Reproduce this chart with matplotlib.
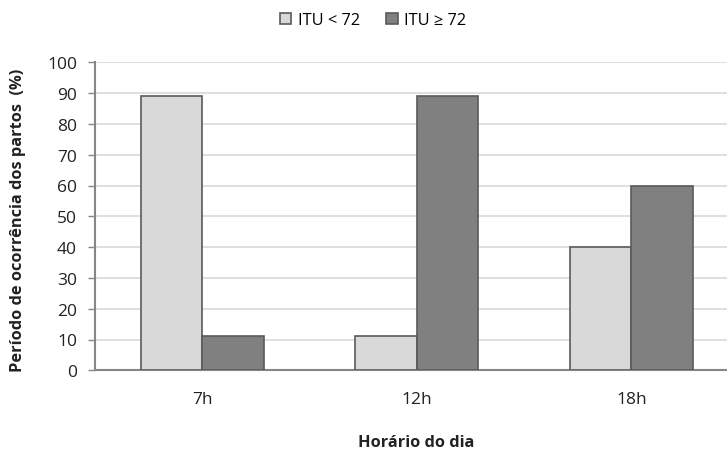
import matplotlib
matplotlib.use("Agg")
import matplotlib.pyplot as plt
import numpy as np

categories = ["7h", "12h", "18h"]
itu_low = [89, 11, 40]     # ITU < 72
itu_high = [11, 89, 60]    # ITU ≥ 72
series_labels = ["ITU < 72", "ITU \u2265 72"]
y_ticks = list(range(0, 101, 10))

plt.rcParams["font.family"] = ["Open Sans", "DejaVu Sans"]
fs = 11.8
fs_tick = 12.5

fig = plt.figure(figsize=(7.27, 4.52), dpi=100)
ax = fig.add_axes([95 / 727, 1 - 371.3 / 452, 643.5 / 727, 308 / 452])

x = np.arange(len(categories))
w = 0.287
edge = "#5a5a5a"
b1 = ax.bar(x - w / 2, itu_low, w, color="#d9d9d9", edgecolor=edge, linewidth=1.2,
            label=series_labels[0], zorder=3)
b2 = ax.bar(x + w / 2, itu_high, w, color="#808080", edgecolor=edge, linewidth=1.2,
            label=series_labels[1], zorder=3)

ax.set_xlim(-0.5, 2.5)
ax.set_ylim(0, 100)
ax.set_yticks(y_ticks)
ax.set_xticks(x)
ax.set_xticklabels(categories)
ax.tick_params(axis="x", length=0, pad=15, labelsize=fs_tick, colors="#222222")
ax.tick_params(axis="y", length=5, width=1, color="#868686", pad=8, labelsize=fs_tick,
               labelcolor="#222222")

ax.grid(axis="y", color="#d9d9d9", linewidth=1.2, zorder=0)
ax.set_axisbelow(True)
for s in ["top", "right"]:
    ax.spines[s].set_visible(False)
for s in ["left", "bottom"]:
    ax.spines[s].set_color("#868686")
    ax.spines[s].set_linewidth(1.5)

fig.text(18 / 727, 1 - 220 / 452, "Período de ocorrência dos partos  (%)", rotation=90,
         ha="center", va="center", fontsize=fs, fontweight="bold", color="#222222")
fig.text(416 / 727, 1 - 443 / 452, "Horário do dia", ha="center", va="center",
         fontsize=fs, fontweight="bold", color="#222222")

fig.legend(handles=[b1, b2], loc="center", bbox_to_anchor=(373 / 727, 1 - 21 / 452),
           ncol=2, frameon=False, fontsize=fs, handlelength=0.7, handleheight=0.7,
           handletextpad=0.4, columnspacing=1.6)

fig.savefig("out.png", dpi=100)
